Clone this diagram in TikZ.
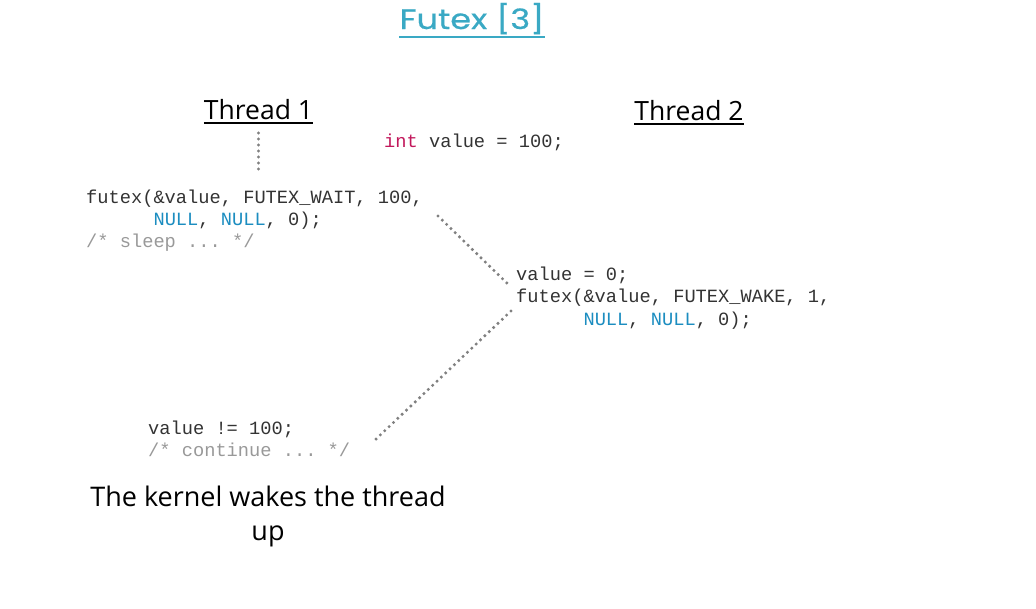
\documentclass[tikz,border=0pt]{standalone}
\usepackage{fontspec}
\setmainfont{Open Sans}
\setmonofont{Liberation Mono}
\newfontfamily\titlefont[FakeStretch=1.2, FakeBold=0.6]{Poppins}
\usetikzlibrary{calc,positioning}

\definecolor{codegray}{HTML}{333333}
\definecolor{nullblue}{HTML}{1C8DC0}
\definecolor{intpink}{HTML}{C2185B}
\definecolor{commgray}{HTML}{999999}
\definecolor{titleblue}{HTML}{3AA9C4}
\definecolor{dotgray}{HTML}{808080}

\newcommand{\nl}{\textcolor{nullblue}{NULL}}

\tikzset{
    code/.style={inner sep=0pt, anchor=base west, text=codegray,
        font=\fontsize{18.7}{22}\selectfont\ttfamily},
    comm/.style={code, text=commgray},
    heading/.style={inner sep=0pt, anchor=base, font=\fontsize{26.5}{30}\selectfont},
    uline/.style={line width=1.8pt},
    dots/.style={dotgray, line width=3.4pt, line cap=round, dash pattern=on 0pt off 6pt}
}

\begin{document}
\begin{tikzpicture}[x=1pt, y=-1pt]
    \useasboundingbox (0,0) rectangle (1036,608);

    % title
    \node[inner sep=0pt, anchor=base, text=titleblue,
        font=\fontsize{28}{30}\selectfont\titlefont] (title) at (472,29) {Futex [3]};
    \draw[titleblue, uline] ($(title.base west)+(0,8)$) -- ($(title.base east)+(0,8)$);

    % thread headings
    \node[heading] (thA) at (258.5,119) {Thread 1};
    \node[heading] (thB) at (689,120) {Thread 2};
    \draw[uline] ($(thA.base west)+(0,4)$) -- ($(thA.base east)+(0,4)$);
    \draw[uline] ($(thB.base west)+(0,4)$) -- ($(thB.base east)+(0,4)$);

    \node[code] (initv) at (384,147) {\textcolor{intpink}{int} value = 100;};

    % thread 1 waits
    \node[code] (wait1) at (86,203) {futex(\&value, FUTEX\_WAIT, 100,};
    \node[code] (wait2) at (86,225) {\ \ \ \ \ \ \nl, \nl, 0);};
    \node[comm] (wait3) at (86,247) {/* sleep ... */};

    % thread 2 wakes
    \node[code] (wake1) at (516,280) {value = 0;};
    \node[code] (wake2) at (516,302) {futex(\&value, FUTEX\_WAKE, 1,};
    \node[code] (wake3) at (516,325) {\ \ \ \ \ \ \nl, \nl, 0);};

    % thread 1 continues
    \node[code] (cont1) at (148,434) {value != 100;};
    \node[comm] (cont2) at (148,456) {/* continue ... */};

    % base of a two-line node is the last line
    \node[inner sep=0pt, anchor=base, align=center,
        font=\fontsize{27}{34}\selectfont] (kernel) at (268,540)
        {The kernel wakes the thread\\up};

    % dotted timelines
    \coordinate (vtop) at ($(thA.base)+(0,14)$);
    \coordinate (vbot) at (vtop |- 0,169);
    \coordinate (d1a) at (438,216);
    \coordinate (d1b) at (511,287);
    \coordinate (d2a) at (511,311);
    \coordinate (d2b) at (375,440);
    \draw[dots] (vtop) -- (vbot);
    \draw[dots] (d1a) -- (d1b);
    \draw[dots] (d2a) -- (d2b);
\end{tikzpicture}
\end{document}
